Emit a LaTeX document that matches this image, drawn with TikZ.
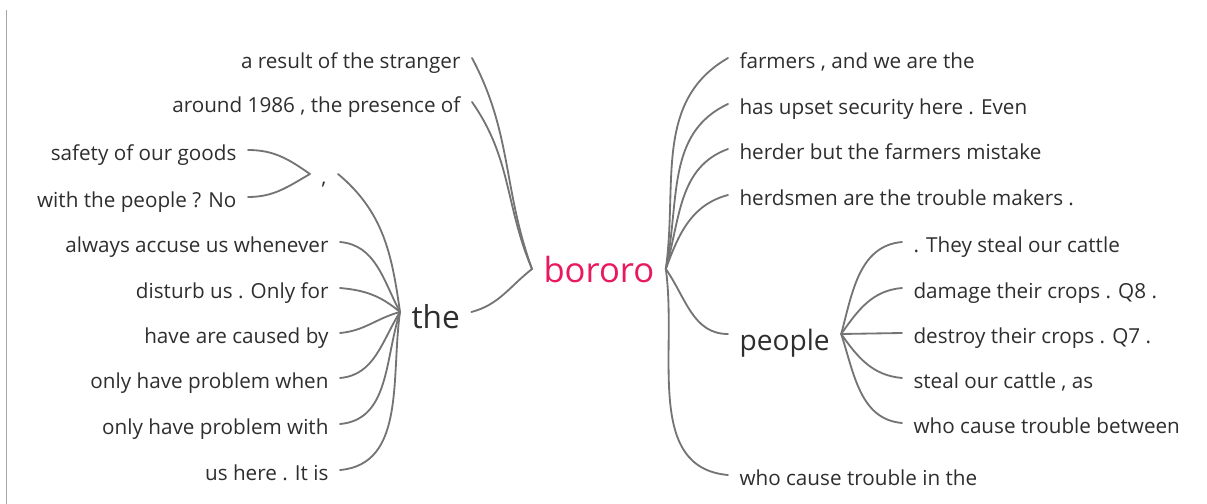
\documentclass[tikz,border=0pt]{standalone}
\usepackage{fontspec}
\setmainfont{Open Sans}
\definecolor{rootpink}{HTML}{E8195F}
\definecolor{branchgray}{HTML}{747474}
\definecolor{textgray}{HTML}{2E2E2E}

\begin{document}
\begin{tikzpicture}[x=0.025cm,y=-0.025cm,
  leaf/.style={inner xsep=8pt,inner ysep=0pt,text height=15pt,text depth=0pt,text=textgray,font=\fontsize{14.7}{17}\selectfont},
  hub/.style={leaf,text height=23pt,font=\fontsize{22.5}{26}\selectfont},
  root/.style={leaf,text height=18.6pt,text=rootpink,font=\fontsize{24.6}{28}\selectfont},
  branch/.style={draw=branchgray,line width=1.3pt,line cap=round}]
  \useasboundingbox (0,0) rectangle (1207,504);
  \draw[gray!70,line width=0.8pt] (6.5,10) -- (6.5,504);
  \node[root,anchor=west] (bororo) at (532,269) {bororo};
  \node[hub,anchor=west] (the) at (400,312) {the};
  \node[hub,anchor=west,font=\fontsize{20}{24}\selectfont] (people) at (728,334) {people};
  \node[leaf] (comma) at (324,174) {,};
  \node[leaf,anchor=east] (stranger) at (472,58) {a result of the stranger};
  \node[leaf,anchor=east] (presence) at (472,102) {around 1986 , the presence of};
  \node[leaf,anchor=east] (safety) at (248,150) {safety of our goods};
  \node[leaf,anchor=east] (withpeople) at (248,197) {with the people ? No};
  \node[leaf,anchor=east] (accuse) at (340,242) {always accuse us whenever};
  \node[leaf,anchor=east] (disturb) at (340,288) {disturb us . Only for};
  \node[leaf,anchor=east] (caused) at (340,333) {have are caused by};
  \node[leaf,anchor=east] (probwhen) at (340,378) {only have problem when};
  \node[leaf,anchor=east] (probwith) at (340,424) {only have problem with};
  \node[leaf,anchor=east] (ushere) at (340,470) {us here . It is};
  \node[leaf,anchor=west] (farmers) at (728,58) {farmers , and we are the};
  \node[leaf,anchor=west] (upset) at (728,104) {has upset security here . Even};
  \node[leaf,anchor=west] (herder) at (728,149) {herder but the farmers mistake};
  \node[leaf,anchor=west] (herdsmen) at (728,195) {herdsmen are the trouble makers .};
  \node[leaf,anchor=west] (troublein) at (728,475) {who cause trouble in the};
  \node[leaf,anchor=west] (theysteal) at (902,242) {. They steal our cattle};
  \node[leaf,anchor=west] (damage) at (902,288) {damage their crops . Q8 .};
  \node[leaf,anchor=west] (destroy) at (902,333) {destroy their crops . Q7 .};
  \node[leaf,anchor=west] (stealas) at (902,378) {steal our cattle , as};
  \node[leaf,anchor=west] (between) at (902,423) {who cause trouble between};
  \draw[branch] (bororo.west) to[out=110,in=-62] (stranger.east);
  \draw[branch] (bororo.west) to[out=113,in=-55] (presence.east);
  \draw[branch] (bororo.west) to[out=218,in=15] (the.east);
  \draw[branch] (bororo.east) to[out=82,in=210] (farmers.west);
  \draw[branch] (bororo.east) to[out=78,in=205] (upset.west);
  \draw[branch] (bororo.east) to[out=74,in=200] (herder.west);
  \draw[branch] (bororo.east) to[out=70,in=195] (herdsmen.west);
  \draw[branch] (bororo.east) to[out=-55,in=180] (people.west);
  \draw[branch] (bororo.east) to[out=-82,in=175] (troublein.west);
  \draw[branch] (the.west) to[out=98,in=-40] (comma.east);
  \draw[branch] (the.west) to[out=118,in=-5] (accuse.east);
  \draw[branch] (the.west) to[out=140,in=-5] (disturb.east);
  \draw[branch] (the.west) to[out=195,in=5] (caused.east);
  \draw[branch] (the.west) to[out=238,in=5] (probwhen.east);
  \draw[branch] (the.west) to[out=252,in=5] (probwith.east);
  \draw[branch] (the.west) to[out=262,in=5] (ushere.east);
  \draw[branch] (comma.west) to[out=145,in=0] (safety.east);
  \draw[branch] (comma.west) to[out=210,in=0] (withpeople.east);
  \draw[branch] (people.east) to[out=75,in=185] (theysteal.west);
  \draw[branch] (people.east) to[out=55,in=185] (damage.west);
  \draw[branch] (people.east) -- (destroy.west);
  \draw[branch] (people.east) to[out=-55,in=175] (stealas.west);
  \draw[branch] (people.east) to[out=-72,in=175] (between.west);
\end{tikzpicture}
\end{document}
